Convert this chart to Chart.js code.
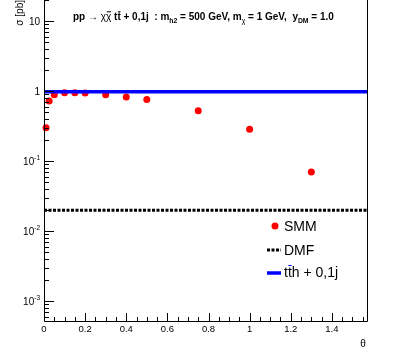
<!DOCTYPE html>
<html>
<head>
<meta charset="utf-8">
<script src="https://cdn.jsdelivr.net/npm/chart.js@4.4.1/dist/chart.umd.min.js"></script>
<style>
    html, body { margin: 0; padding: 0; background: #fff; }
    #wrap { width: 407px; height: 361px; }
</style>
</head>
<body>
<div id="wrap"><canvas id="chart" width="407" height="361"></canvas></div>
<script>
// SMM cross sections vs mixing angle theta
const smmTheta = [0.01, 0.025, 0.05, 0.1, 0.15, 0.2, 0.3, 0.4, 0.5, 0.75, 1.0, 1.3];
const smmSigma = [0.30, 0.72, 0.89, 0.95, 0.95, 0.94, 0.89, 0.82, 0.76, 0.525, 0.286, 0.070];

// flat reference lines (DMF and ttH), drawn across the theta range
const lineTheta = [0, Math.PI / 2];
const dmfSigma = [0.0198, 0.0198];
const tthSigma = [0.98, 0.98];

// axis ticks
const xTicks = [0, 0.2, 0.4, 0.6, 0.8, 1.0, 1.2, 1.4];
const xTickLabels = ['0', '0.2', '0.4', '0.6', '0.8', '1', '1.2', '1.4'];
const yTicks = [1e-3, 1e-2, 1e-1, 1, 10];
const yTickLabels = [['10', '-3'], ['10', '-2'], ['10', '-1'], ['1', ''], ['10', '']];

const FONT = '"Liberation Sans", Arial, sans-serif';

const toPoints = (xs, ys) => xs.map((x, i) => ({ x: x, y: ys[i] }));

// draw a run of text pieces: {t, sub, bar, bold}
const drawRich = (ctx, parts, x, y, size, bold) => {
    let cx = x;
    parts.forEach(p => {
        const fs = p.sub ? size * 0.68 : size;
        const w = (p.bold === undefined ? bold : p.bold) ? 'bold ' : '';
        ctx.font = w + fs + 'px ' + FONT;
        const dy = p.sub ? size * 0.32 : 0;
        ctx.fillText(p.t, cx, y + dy);
        const tw = ctx.measureText(p.t).width;
        if (p.bar) {
            ctx.save();
            ctx.lineWidth = 1;
            ctx.beginPath();
            ctx.moveTo(cx + tw * 0.15, y - size * 0.82);
            ctx.lineTo(cx + tw * 0.95, y - size * 0.82);
            ctx.stroke();
            ctx.restore();
        }
        cx += tw;
    });
    return cx;
};

const rootFrame = {
    id: 'rootFrame',
    afterDatasetsDraw(chart) {
        const ctx = chart.ctx;
        const a = chart.chartArea;
        const xs = chart.scales.x;
        const ys = chart.scales.y;
        ctx.save();
        ctx.strokeStyle = '#000';
        ctx.fillStyle = '#000';
        ctx.lineWidth = 1;

        // frame: left, bottom, right
        ctx.beginPath();
        ctx.moveTo(a.left + 0.5, a.top);
        ctx.lineTo(a.left + 0.5, a.bottom + 0.5);
        ctx.lineTo(a.right + 0.5, a.bottom + 0.5);
        ctx.lineTo(a.right + 0.5, a.top);
        ctx.stroke();

        // x ticks (major + 3 minors between)
        ctx.beginPath();
        for (let v = 0; v <= xs.max + 1e-9; v += 0.05) {
            const px = Math.round(xs.getPixelForValue(v)) + 0.5;
            const major = Math.abs(v / 0.2 - Math.round(v / 0.2)) < 1e-6;
            ctx.moveTo(px, a.bottom);
            ctx.lineTo(px, a.bottom - (major ? 8 : 4));
        }
        // y ticks (log)
        for (let d = 1e-4; d <= 100; d *= 10) {
            for (let m = 1; m <= 9; m++) {
                const v = m * d;
                if (v < ys.min || v > ys.max) continue;
                const py = Math.round(ys.getPixelForValue(v)) + 0.5;
                ctx.moveTo(a.left, py);
                ctx.lineTo(a.left + (m === 1 ? 10 : 5), py);
            }
        }
        ctx.stroke();

        // x tick labels
        ctx.font = '9.5px ' + FONT;
        ctx.textAlign = 'center';
        ctx.textBaseline = 'middle';
        xTicks.forEach((v, i) => {
            ctx.fillText(xTickLabels[i], xs.getPixelForValue(v), a.bottom + 8.5);
        });

        // y tick labels with exponents
        ctx.textAlign = 'left';
        ctx.textBaseline = 'alphabetic';
        yTicks.forEach((v, i) => {
            const [base, exp] = yTickLabels[i];
            const py = ys.getPixelForValue(v);
            ctx.font = '10px ' + FONT;
            const bw = ctx.measureText(base).width;
            ctx.font = '6.5px ' + FONT;
            const ew = exp ? ctx.measureText(exp).width : 0;
            const x0 = a.left - 4 - bw - ew;
            ctx.font = '10px ' + FONT;
            ctx.fillText(base, x0, py + 3.5);
            if (exp) {
                ctx.font = '6.5px ' + FONT;
                ctx.fillText(exp, x0 + bw, py - 1);
            }
        });

        // axis titles
        ctx.font = '10px ' + FONT;
        ctx.textAlign = 'center';
        ctx.textBaseline = 'middle';
        ctx.fillText('\u03b8', 363, 344);
        ctx.save();
        ctx.translate(20, a.top);
        ctx.rotate(-Math.PI / 2);
        ctx.textAlign = 'right';
        ctx.fillText('\u03c3 [pb]', 0, 0);
        ctx.restore();

        // title
        ctx.textAlign = 'left';
        ctx.textBaseline = 'alphabetic';
        drawRich(ctx, [
            { t: 'pp ' },
            { t: '\u2192', bold: false },
            { t: ' ' },
            { t: '\u03c7', bold: false },
            { t: '\u03c7', bold: false, bar: true },
            { t: ' t' },
            { t: 't', bar: true },
            { t: ' + 0,1j  : m' },
            { t: 'h2', sub: true },
            { t: ' = 500 GeV, m' },
            { t: '\u03c7', sub: true, bold: false },
            { t: ' = 1 GeV,  y' },
            { t: 'DM', sub: true },
            { t: ' = 1.0' }
        ], 73, 20, 10, true);

        // legend
        const lx = 267, lw = 14, tx = 284;
        ctx.textBaseline = 'middle';
        ctx.font = '14px ' + FONT;
        const smm = chart.data.datasets[0];
        ctx.fillStyle = smm.backgroundColor;
        ctx.beginPath();
        ctx.arc(lx + lw / 2 + 1, 226, smm.pointRadius, 0, Math.PI * 2);
        ctx.fill();
        ctx.fillStyle = '#000';
        ctx.fillText(smm.label, tx, 227);

        const dmf = chart.data.datasets[1];
        ctx.strokeStyle = dmf.borderColor;
        ctx.lineWidth = dmf.borderWidth;
        ctx.setLineDash(dmf.borderDash);
        ctx.beginPath();
        ctx.moveTo(lx, 250);
        ctx.lineTo(lx + lw, 250);
        ctx.stroke();
        ctx.setLineDash([]);
        ctx.fillText(dmf.label, tx, 251);

        const tth = chart.data.datasets[2];
        ctx.strokeStyle = tth.borderColor;
        ctx.lineWidth = tth.borderWidth;
        ctx.beginPath();
        ctx.moveTo(lx, 273);
        ctx.lineTo(lx + lw, 273);
        ctx.stroke();
        ctx.textBaseline = 'alphabetic';
        drawRich(ctx, [
            { t: 't' },
            { t: 't', bar: true },
            { t: 'h + 0,1j' }
        ], tx, 277, 14, false);

        ctx.restore();
    }
};

new Chart(document.getElementById('chart'), {
    type: 'scatter',
    data: {
        datasets: [
            {
                label: 'SMM',
                data: toPoints(smmTheta, smmSigma),
                backgroundColor: '#ff0000',
                borderWidth: 0,
                pointRadius: 3.5,
                showLine: false,
                clip: false,
                order: 1
            },
            {
                label: 'DMF',
                data: toPoints(lineTheta, dmfSigma),
                borderColor: '#000000',
                borderWidth: 3,
                borderDash: [3, 1.5],
                pointRadius: 0,
                showLine: true,
                order: 2
            },
            {
                label: 't\u0305th + 0,1j',
                data: toPoints(lineTheta, tthSigma),
                borderColor: '#0000ff',
                borderWidth: 3.5,
                pointRadius: 0,
                showLine: true,
                order: 0
            }
        ]
    },
    options: {
        responsive: false,
        animation: false,
        layout: { autoPadding: false, padding: { left: 44, right: 40, top: 0, bottom: 40 } },
        scales: {
            x: { type: 'linear', min: 0, max: Math.PI / 2, display: false },
            y: { type: 'logarithmic', min: 5.2e-4, max: 20, display: false }
        },
        plugins: {
            legend: { display: false },
            tooltip: { enabled: false }
        }
    },
    plugins: [rootFrame]
});
</script>
</body>
</html>
